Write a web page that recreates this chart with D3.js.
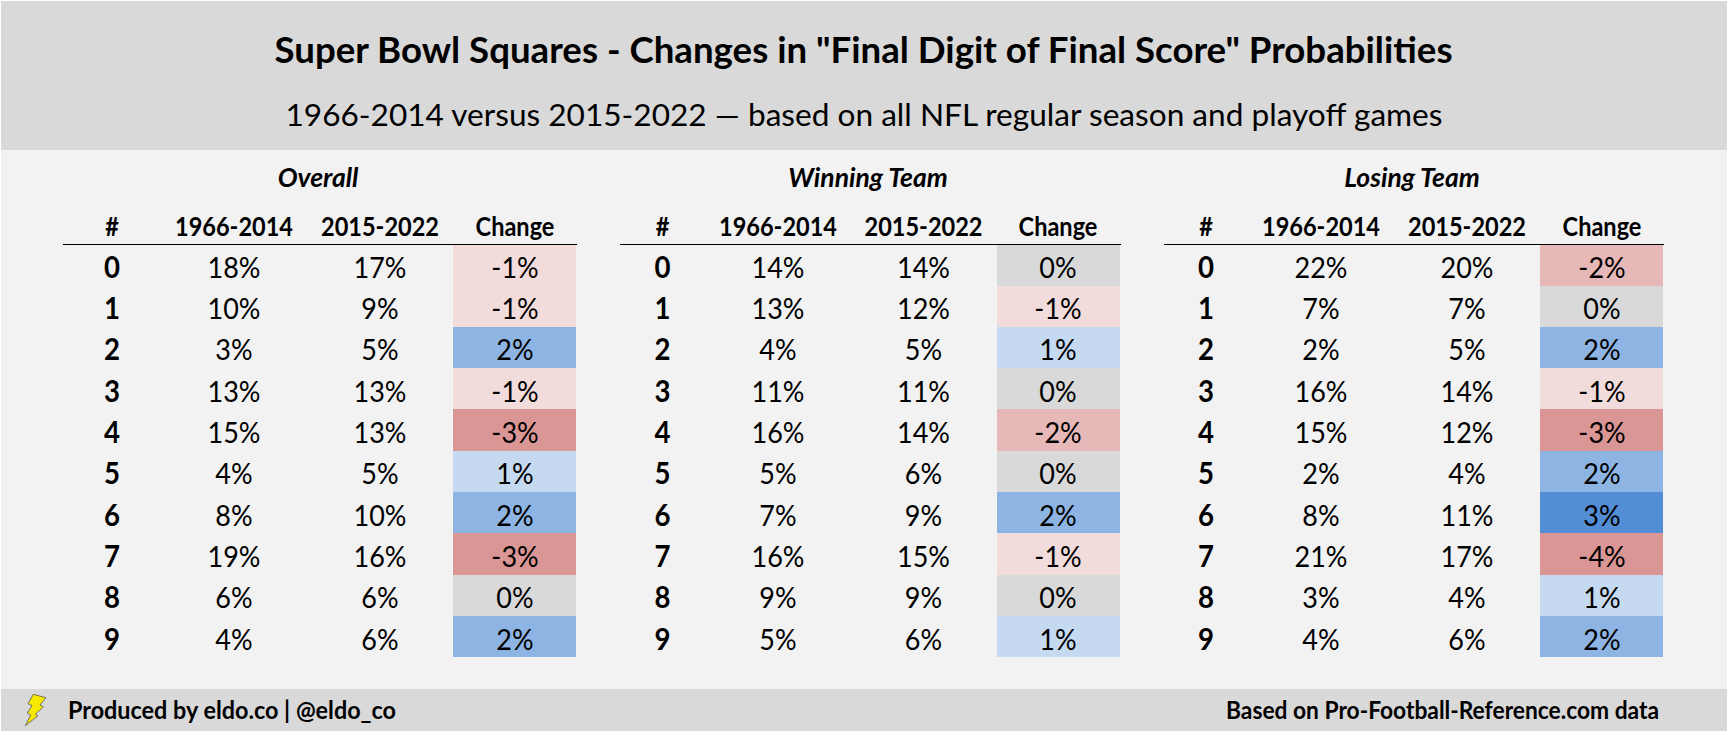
<!DOCTYPE html>
<html><head><meta charset="utf-8">
<script src="https://cdnjs.cloudflare.com/ajax/libs/d3/7.8.5/d3.min.js"></script>
<style>html,body{margin:0;padding:0;background:#fff}svg{display:block}text{font-family:Lato,sans-serif;fill:#000}</style>
</head><body><script>
const digits=["0","1","2","3","4","5","6","7","8","9"];
const columnLabels=["#","1966-2014","2015-2022","Change"];
const panelTitles=["Overall","Winning Team","Losing Team"];
const overallEarly=[18,10,3,13,15,4,8,19,6,4];
const overallLate=[17,9,5,13,13,5,10,16,6,6];
const overallChange=[-1,-1,2,-1,-3,1,2,-3,0,2];
const winningEarly=[14,13,4,11,16,5,7,16,9,5];
const winningLate=[14,12,5,11,14,6,9,15,9,6];
const winningChange=[0,-1,1,0,-2,0,2,-1,0,1];
const losingEarly=[22,7,2,16,15,2,8,21,3,4];
const losingLate=[20,7,5,14,12,4,11,17,4,6];
const losingChange=[-2,0,2,-1,-3,2,3,-4,1,2];
const changeLevels=[-4,-3,-2,-1,0,1,2,3];
const changeColors=["#da9694","#da9694","#e6b8b7","#f2dcdb","#d9d9d9","#c5d9f1","#8db4e2","#538dd5"];
const titleText='Super Bowl Squares - Changes in "Final Digit of Final Score" Probabilities';
const subtitleText='1966-2014 versus 2015-2022 \u2014 based on all NFL regular season and playoff games';
const footerLeft='Produced by eldo.co | @eldo_co';
const footerRight='Based on Pro-Football-Reference.com data';

const W=1728,H=732;
const svg=d3.select("body").append("svg").attr("width",W).attr("height",H);
svg.append("rect").attr("width",W).attr("height",H).attr("fill","#fff");
svg.append("rect").attr("x",1).attr("y",1).attr("width",W-2).attr("height",H-2).attr("fill","#f2f2f2");
svg.append("rect").attr("x",1).attr("y",1).attr("width",W-2).attr("height",149).attr("fill","#d9d9d9");
svg.append("rect").attr("x",1).attr("y",689).attr("width",W-2).attr("height",42).attr("fill","#d9d9d9");

function fit(sel,w){return sel.attr("textLength",w).attr("lengthAdjust","spacingAndGlyphs");}
fit(svg.append("text").attr("x",863.5).attr("y",63).attr("text-anchor","middle").attr("font-size",37).attr("font-weight",700).text(titleText),1178);
fit(svg.append("text").attr("x",864).attr("y",125.5).attr("text-anchor","middle").attr("font-size",31.5).text(subtitleText),1157);

const color=d3.scaleOrdinal().domain(changeLevels).range(changeColors);
const y=d3.scaleBand().domain(digits).range([244.2,657.2]);
const pct=v=>v+"%";
const squeeze=(x,yy,s)=>`translate(${x},${yy}) scale(${s},1)`;
const panels=[
 {x:[63,577],cols:[112,234,380,515],cell:[453,576],titleX:318,e:overallEarly,l:overallLate,c:overallChange},
 {x:[620,1121],cols:[662.5,778,923.5,1058],cell:[997,1120],titleX:868,e:winningEarly,l:winningLate,c:winningChange},
 {x:[1164,1664],cols:[1206,1321,1467,1602],cell:[1540,1663],titleX:1412,e:losingEarly,l:losingLate,c:losingChange}
];
panels.forEach((p,pi)=>{
 const g=svg.append("g");
 g.append("text").attr("x",p.titleX).attr("y",187).attr("text-anchor","middle").attr("font-size",26.5).attr("font-weight",700).attr("font-style","italic").text(panelTitles[pi]);
 g.selectAll("text.h").data(columnLabels).join("text").attr("class","h").attr("transform",(d,i)=>squeeze(p.cols[i],235.5,0.906)).attr("text-anchor","middle").attr("font-size",26).attr("font-weight",700).text(d=>d);
 g.selectAll("rect.c").data(p.c).join("rect").attr("class","c").attr("x",p.cell[0]).attr("width",p.cell[1]-p.cell[0])
  .attr("y",(d,i)=>Math.round(y(digits[i]))).attr("height",(d,i)=>Math.round(y(digits[i])+y.bandwidth())-Math.round(y(digits[i]))).attr("fill",d=>color(d));
 g.append("line").attr("x1",p.x[0]).attr("x2",p.x[1]).attr("y1",244.5).attr("y2",244.5).attr("stroke","#000").attr("stroke-width",1);
 const row=(vals,ci,bold,fmt)=>g.selectAll("text.r"+ci).data(vals).join("text").attr("class","r"+ci)
  .attr("transform",(d,i)=>squeeze(p.cols[ci],y(digits[i])+y.bandwidth()/2+13,bold?0.92:0.93))
  .attr("text-anchor","middle").attr("font-size",bold?30:29).attr("font-weight",bold?700:400).text(fmt);
 row(digits,0,true,d=>d);row(p.e,1,false,pct);row(p.l,2,false,pct);row(p.c,3,false,pct);
});
const footY=718.5;
fit(svg.append("text").attr("x",68).attr("y",footY).attr("font-size",24.5).attr("font-weight",700).text(footerLeft),328);
fit(svg.append("text").attr("x",1659).attr("y",footY).attr("text-anchor","end").attr("font-size",24.5).attr("font-weight",700).text(footerRight),433);
svg.append("path").attr("d","M33.3 694.3 L46 697.7 L40 705 L43.3 707 L35.3 714.3 L38 715.7 L25.3 725.7 L30.7 715 L27.3 713 L32 705.7 L28 703.7 Z").attr("fill","#f7ea00").attr("stroke","#555").attr("stroke-width",0.8);
</script></body></html>
